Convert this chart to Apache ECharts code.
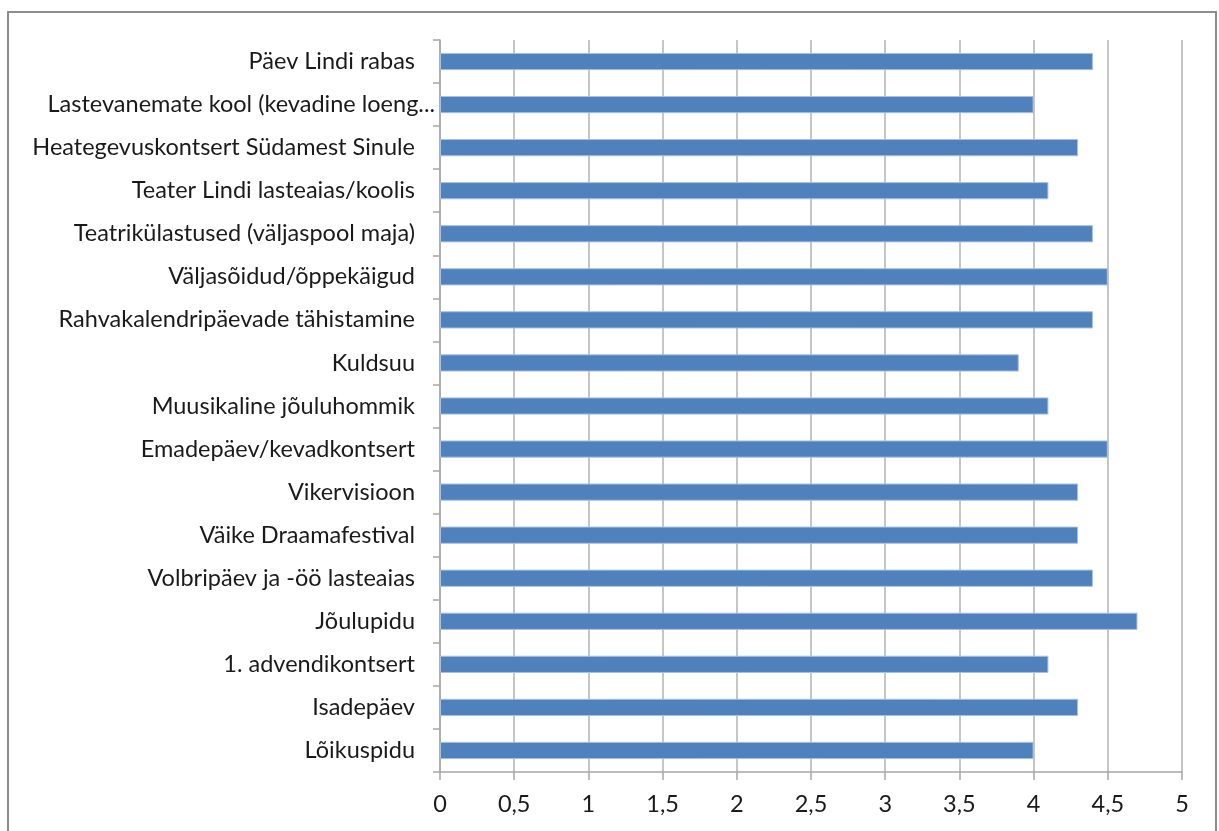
<!DOCTYPE html>
<html><head><meta charset="utf-8">
<script src="https://cdn.jsdelivr.net/npm/echarts@6/dist/echarts.min.js"></script>
<style>html,body{margin:0;padding:0;background:#fff}#c{width:1219px;height:831px}</style>
</head><body><div id="c"></div>
<script>
const categories = ["Lõikuspidu","Isadepäev","1. advendikontsert","Jõulupidu","Volbripäev ja -öö lasteaias","Väike Draamafestival","Vikervisioon","Emadepäev/kevadkontsert","Muusikaline jõuluhommik","Kuldsuu","Rahvakalendripäevade tähistamine","Väljasõidud/õppekäigud","Teatrikülastused (väljaspool maja)","Teater Lindi lasteaias/koolis","Heategevuskontsert Südamest Sinule","Lastevanemate kool (kevadine loeng...","Päev Lindi rabas"];
const values = [4.0,4.3,4.1,4.7,4.4,4.3,4.3,4.5,4.1,3.9,4.4,4.5,4.4,4.1,4.3,4.0,4.4];
const truncatedLabel = "Lastevanemate kool (kevadine loeng...";

const chart = echarts.init(document.getElementById('c'));
const font = 'Lato, "Open Sans", sans-serif';
const fs = 23.5;
chart.setOption({
  animation:false,
  backgroundColor:'#fff',
  graphic:[{type:'rect',shape:{x:8,y:12,width:1208,height:830},style:{fill:'none',stroke:'#8c8c8c',lineWidth:2},silent:true}],
  grid:{left:440,right:37,top:40,bottom:59,containLabel:false},
  xAxis:{type:'value',min:0,max:5,interval:0.5,
    axisLine:{show:true,lineStyle:{color:'#a6a6a6',width:1.5}},
    axisTick:{show:true,length:8,lineStyle:{color:'#a6a6a6',width:1.5}},
    splitLine:{show:true,lineStyle:{color:'#b3b3b3',width:1.5}},
    axisLabel:{color:'#1a1a1a',fontSize:fs,fontFamily:font,margin:20,formatter:v=>String(v).replace('.',',')}},
  yAxis:{type:'category',data:categories,
    axisLine:{show:true,lineStyle:{color:'#a6a6a6',width:1.5}},
    axisTick:{show:true,length:7,lineStyle:{color:'#a6a6a6',width:1.5}},
    axisLabel:{color:'#1a1a1a',fontSize:fs,fontFamily:font,margin:5,
      formatter:v=> v===truncatedLabel ? '{t|'+v+'}' : '{n|'+v+'}',
      rich:{n:{fontSize:fs,fontFamily:font,color:'#1a1a1a',padding:[0,20,0,0]},t:{fontSize:fs,fontFamily:font,color:'#1a1a1a'}}}},
  series:[{type:'bar',data:values,barWidth:'40%',
    itemStyle:{color:'#4f81bd',borderColor:'#a9c1e0',borderWidth:1}}]
});
</script></body></html>
